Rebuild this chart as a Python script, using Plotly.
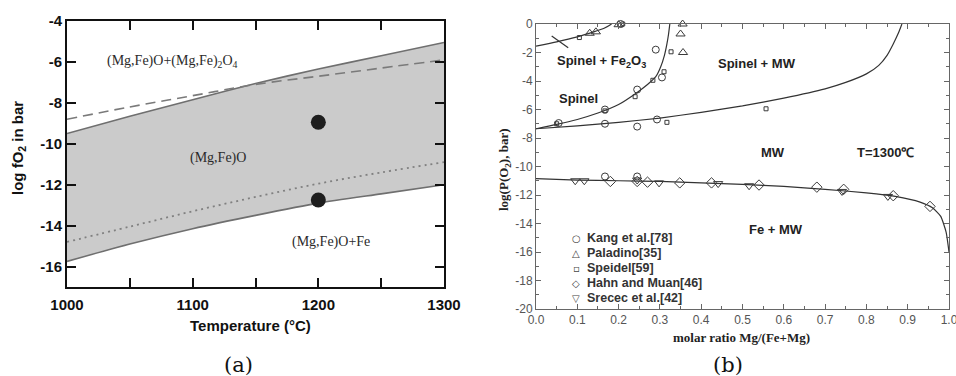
import plotly.graph_objects as go

W, H = 956, 376

# ---------------- Panel (a) data ----------------
a_temperature = [1000, 1050, 1100, 1150, 1200, 1250, 1300]
a_upper_boundary = [-9.5, -8.65, -7.85, -7.05, -6.35, -5.7, -5.05]
a_lower_boundary = [-15.75, -14.9, -14.15, -13.5, -12.9, -12.45, -12.0]
a_dashed_line = [-8.8, -8.2, -7.65, -7.1, -6.7, -6.3, -5.9]
a_dotted_line = [-14.8, -14.05, -13.3, -12.6, -11.95, -11.4, -10.9]
a_points_T = [1200, 1200]
a_points_logfO2 = [-8.95, -12.75]
a_xtick_vals = [1000, 1100, 1200, 1300]
a_xtick_text = ["1000", "1100", "1200", "1300"]
a_ytick_vals = [-4, -6, -8, -10, -12, -14, -16]
a_ytick_text = ["-4", "-6", "-8", "-10", "-12", "-14", "-16"]

# ---------------- Panel (b) data ----------------
b_curve1_x = [0, 0.05, 0.1, 0.14, 0.165, 0.183]
b_curve1_y = [-1.55, -1.25, -0.9, -0.55, -0.3, 0]
b_slash_x = [0.038, 0.078]
b_slash_y = [-0.84, -1.66]
b_curve2_x = [0, 0.05, 0.1, 0.15, 0.2, 0.245, 0.27, 0.29, 0.302, 0.311, 0.317, 0.321, 0.324]
b_curve2_y = [-7.35, -7.05, -6.7, -6.25, -5.65, -4.8, -4.25, -3.7, -3.0, -2.2, -1.4, -0.7, 0]
b_curve3_x = [0, 0.1, 0.2, 0.3, 0.4, 0.5, 0.6, 0.7, 0.75, 0.8, 0.83, 0.85, 0.865, 0.878, 0.886]
b_curve3_y = [-7.35, -7.15, -6.9, -6.6, -6.2, -5.75, -5.2, -4.55, -4.1, -3.5, -2.9, -2.2, -1.4, -0.6, 0]
b_curve4_x = [0, 0.1, 0.2, 0.3, 0.4, 0.5, 0.6, 0.7, 0.8, 0.87, 0.93, 0.96, 0.98, 0.993, 1.0]
b_curve4_y = [-10.85, -10.95, -11.0, -11.05, -11.15, -11.25, -11.4, -11.6, -11.85, -12.1, -12.5, -12.9, -13.5, -14.6, -16.0]

kang_x = [0.205, 0.167, 0.167, 0.245, 0.245, 0.29, 0.305, 0.293, 0.167, 0.245, 0.055]
kang_y = [0.0, -6.0, -7.0, -4.6, -7.2, -1.8, -3.75, -6.7, -10.7, -10.7, -6.95]
paladino_x = [0.13, 0.145, 0.2, 0.355, 0.35, 0.356]
paladino_y = [-0.65, -0.55, -0.05, 0.0, -0.7, -2.0]
speidel_x = [0.105, 0.05, 0.167, 0.24, 0.283, 0.31, 0.327, 0.317, 0.557, 0.21]
speidel_y = [-0.95, -7.0, -6.1, -5.1, -3.95, -3.35, -1.95, -6.9, -5.95, 0.0]
hahn_x = [0.18, 0.245, 0.27, 0.348, 0.425, 0.54, 0.68, 0.745, 0.865, 0.954]
hahn_y = [-11.05, -11.05, -11.1, -11.15, -11.15, -11.3, -11.45, -11.6, -12.05, -12.8]
srecec_x = [0.095, 0.117, 0.245, 0.298, 0.441, 0.516, 0.741, 0.852]
srecec_y = [-11.0, -11.0, -10.95, -11.15, -11.2, -11.35, -11.75, -12.1]

b_xtick_vals = [0.0, 0.1, 0.2, 0.3, 0.4, 0.5, 0.6, 0.7, 0.8, 0.9, 1.0]
b_xtick_text = ["0.0", "0.1", "0.2", "0.3", "0.4", "0.5", "0.6", "0.7", "0.8", "0.9", "1.0"]
b_ytick_vals = [0, -2, -4, -6, -8, -10, -12, -14, -16, -18, -20]
b_ytick_text = ["0", "-2", "-4", "-6", "-8", "-10", "-12", "-14", "-16", "-18", "-20"]

legend_symbols = ["○", "△", "▫", "◇", "▽"]
legend_labels = ["Kang et al.[78]", "Paladino[35]", "Speidel[59]", "Hahn and Muan[46]", "Srecec et al.[42]"]


def px(x):
    return x / W


def py(y):
    return 1 - y / H


SANS = "Liberation Sans, Arial, sans-serif"
SERIF = "Liberation Serif, Times New Roman, serif"

fig = go.Figure()

# ---- panel (a) traces ----
fig.add_trace(go.Scatter(x=a_temperature, y=a_lower_boundary, mode="lines",
                         line=dict(color="#6f6f6f", width=1.6, shape="spline", smoothing=0.6),
                         xaxis="x", yaxis="y", showlegend=False, hoverinfo="skip"))
fig.add_trace(go.Scatter(x=a_temperature, y=a_upper_boundary, mode="lines", fill="tonexty",
                         fillcolor="#cbcbcb",
                         line=dict(color="#6f6f6f", width=1.6, shape="spline", smoothing=0.6),
                         xaxis="x", yaxis="y", showlegend=False, hoverinfo="skip"))
fig.add_trace(go.Scatter(x=a_temperature, y=a_dashed_line, mode="lines",
                         line=dict(color="#7a7a7a", width=1.6, dash="10px,6px", shape="spline"),
                         xaxis="x", yaxis="y", showlegend=False, hoverinfo="skip"))
fig.add_trace(go.Scatter(x=a_temperature, y=a_dotted_line, mode="lines",
                         line=dict(color="#808080", width=1.8, dash="2px,4px", shape="spline"),
                         xaxis="x", yaxis="y", showlegend=False, hoverinfo="skip"))
fig.add_trace(go.Scatter(x=a_points_T, y=a_points_logfO2, mode="markers",
                         marker=dict(color="#1e1e1e", size=15),
                         xaxis="x", yaxis="y", showlegend=False, hoverinfo="skip"))

# ---- panel (b) traces ----
for cx, cy in [(b_curve1_x, b_curve1_y), (b_slash_x, b_slash_y), (b_curve2_x, b_curve2_y),
               (b_curve3_x, b_curve3_y), (b_curve4_x, b_curve4_y)]:
    fig.add_trace(go.Scatter(x=cx, y=cy, mode="lines",
                             line=dict(color="#333333", width=1.2, shape="spline", smoothing=0.5),
                             xaxis="x2", yaxis="y2", showlegend=False, hoverinfo="skip"))

marker_sets = [
    (kang_x, kang_y, "circle-open", 7),
    (paladino_x, paladino_y, "triangle-up-open", 8),
    (speidel_x, speidel_y, "square-open", 4),
    (hahn_x, hahn_y, "diamond-open", 8),
    (srecec_x, srecec_y, "triangle-down-open", 8),
]
for mx, my, sym, sz in marker_sets:
    fig.add_trace(go.Scatter(x=mx, y=my, mode="markers", cliponaxis=False,
                             marker=dict(symbol=sym, size=sz, color="#3a3a3a",
                                         line=dict(width=1, color="#3a3a3a")),
                             xaxis="x2", yaxis="y2", showlegend=False, hoverinfo="skip"))

annotations = []

# panel (a) labels
for text, x, y in [("(Mg,Fe)O+(Mg,Fe)<sub>2</sub>O<sub>4</sub>", 172, 62),
                   ("(Mg,Fe)O", 218, 158),
                   ("(Mg,Fe)O+Fe", 331, 242)]:
    annotations.append(dict(text=text, x=px(x), y=py(y), xref="paper", yref="paper",
                            showarrow=False, xanchor="center", yanchor="middle",
                            font=dict(family=SERIF, size=14, color="#2a2a2a")))

# panel (b) labels
for text, x, y in [("Spinel + Fe<sub>2</sub>O<sub>3</sub>", 601, 62),
                   ("Spinel", 578, 98),
                   ("Spinel + MW", 757, 63),
                   ("MW", 773, 152),
                   ("T=1300℃", 885, 152),
                   ("Fe + MW", 776, 229)]:
    annotations.append(dict(text=text, x=px(x), y=py(y), xref="paper", yref="paper",
                            showarrow=False, xanchor="center", yanchor="middle",
                            font=dict(family=SANS, size=13, color="#222222", weight="bold")))

# legend of panel (b)
legend_rows_y = [238, 253, 268, 283, 298]
for sym, lab, y in zip(legend_symbols, legend_labels, legend_rows_y):
    annotations.append(dict(text=sym, x=px(576), y=py(y), xref="paper", yref="paper",
                            showarrow=False, xanchor="center", yanchor="middle",
                            font=dict(family="DejaVu Sans", size=10, color="#444444")))
    annotations.append(dict(text=lab, x=px(585), y=py(y), xref="paper", yref="paper",
                            showarrow=False, xanchor="left", yanchor="middle",
                            font=dict(family=SANS, size=12.5, color="#333333", weight="bold")))

# panel captions
for text, x in [("(a)", 238), ("(b)", 728)]:
    annotations.append(dict(text=text, x=px(x), y=py(365), xref="paper", yref="paper",
                            showarrow=False, xanchor="center", yanchor="middle",
                            font=dict(family="DejaVu Serif", size=21, color="#111111")))

# axis titles as annotations for precise placement
annotations.append(dict(text="Temperature (°C)", x=px(251), y=py(325), xref="paper", yref="paper",
                        showarrow=False, xanchor="center", yanchor="middle",
                        font=dict(family=SANS, size=15, color="#111111", weight="bold")))
annotations.append(dict(text="log fO<sub>2</sub> in bar", x=px(19), y=py(148), xref="paper", yref="paper",
                        showarrow=False, xanchor="center", yanchor="middle", textangle=-90,
                        font=dict(family=SANS, size=15, color="#111111", weight="bold")))
annotations.append(dict(text="molar ratio Mg/(Fe+Mg)", x=px(741), y=py(337), xref="paper", yref="paper",
                        showarrow=False, xanchor="center", yanchor="middle",
                        font=dict(family=SERIF, size=13, color="#222222", weight="bold")))
annotations.append(dict(text="log(P(O<sub>2</sub>), bar)", x=px(504), y=py(170), xref="paper", yref="paper",
                        showarrow=False, xanchor="center", yanchor="middle", textangle=-90,
                        font=dict(family=SERIF, size=13, color="#222222", weight="bold")))

fig.update_layout(
    width=W, height=H,
    margin=dict(l=0, r=0, t=0, b=0, autoexpand=False),
    paper_bgcolor="white", plot_bgcolor="white",
    showlegend=False,
    annotations=annotations,
    xaxis=dict(domain=[px(67), px(444)], range=[1000, 1300], anchor="y", automargin=False,
               tickmode="array", tickvals=a_xtick_vals, ticktext=a_xtick_text,
               ticks="inside", ticklen=9, tickwidth=2, tickcolor="#111111",
               minor=dict(dtick=50, ticks="inside", ticklen=9, tickwidth=2, tickcolor="#111111", showgrid=False),
               showline=True, linewidth=2, linecolor="#111111", mirror="ticks",
               showgrid=False, zeroline=False, ticklabelstandoff=3,
               tickfont=dict(family=SANS, size=15, color="#111111", weight="bold")),
    yaxis=dict(domain=[py(287), py(21)], range=[-17, -4], anchor="x", automargin=False,
               tickmode="array", tickvals=a_ytick_vals, ticktext=a_ytick_text,
               ticks="inside", ticklen=9, tickwidth=2, tickcolor="#111111",
               showline=True, linewidth=2, linecolor="#111111", mirror="ticks",
               showgrid=False, zeroline=False,
               tickfont=dict(family=SANS, size=15, color="#111111", weight="bold")),
    xaxis2=dict(domain=[px(536), px(949)], range=[0, 1], anchor="y2", automargin=False,
                tickmode="array", tickvals=b_xtick_vals, ticktext=b_xtick_text,
                ticks="inside", ticklen=5, tickwidth=1, tickcolor="#666666",
                minor=dict(dtick=0.05, ticks="inside", ticklen=3, tickcolor="#666666", showgrid=False),
                showline=True, linewidth=1, linecolor="#666666", mirror="ticks",
                showgrid=False, zeroline=False, ticklabeloverflow="allow",
                tickfont=dict(family=SANS, size=12, color="#555555")),
    yaxis2=dict(domain=[py(309), py(24)], range=[-20, 0], anchor="x2", automargin=False,
                tickmode="array", tickvals=b_ytick_vals, ticktext=b_ytick_text,
                ticks="inside", ticklen=5, tickwidth=1, tickcolor="#666666",
                minor=dict(dtick=1, ticks="inside", ticklen=3, tickcolor="#666666", showgrid=False),
                showline=True, linewidth=1, linecolor="#666666", mirror="ticks",
                showgrid=False, zeroline=False,
                tickfont=dict(family=SANS, size=12, color="#555555")),
)

fig.write_html("out.html")
